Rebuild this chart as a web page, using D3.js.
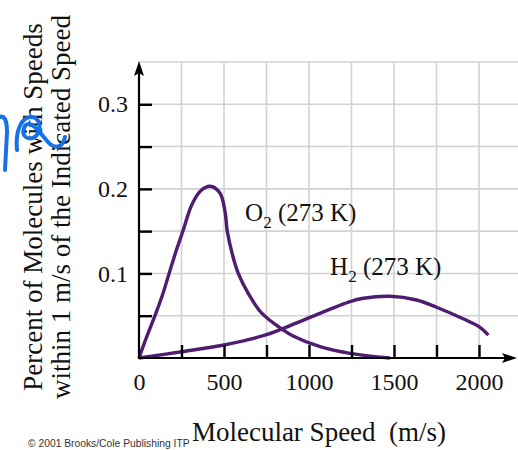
<!DOCTYPE html>
<html>
<head>
<meta charset="utf-8">
<script src="https://cdn.jsdelivr.net/npm/d3@7"></script>
<style>
  body { margin: 0; background: #fff; }
  svg { display: block; }
  .serif { font-family: "Liberation Serif", "Times New Roman", serif; fill: #111; }
</style>
</head>
<body>
<svg id="chart"></svg>
<script>
// Data (speed in m/s, percent of molecules)
const o2Speed = [0, 45, 94, 139, 177, 216, 258, 310, 359, 418, 476, 506, 519, 550, 584, 641, 722, 849, 906, 1065, 1241, 1476];
const o2Pct = [0, 0.025, 0.05, 0.075, 0.1, 0.125, 0.15, 0.181, 0.197, 0.203, 0.195, 0.173, 0.15, 0.122, 0.1, 0.077, 0.053, 0.033, 0.026, 0.0134, 0.0055, 0];
const h2Speed = [0, 250, 500, 741, 849, 1006, 1241, 1320, 1476, 1633, 1750, 1900, 2000, 2055];
const h2Pct = [0, 0.0074, 0.0154, 0.027, 0.035, 0.048, 0.0666, 0.0706, 0.073, 0.0686, 0.06, 0.047, 0.037, 0.027];

const xTicks = [250, 500, 750, 1000, 1250, 1500, 1750, 2000];
const xLabels = [0, 500, 1000, 1500, 2000];
const yTicks = [0.05, 0.1, 0.15, 0.2, 0.25, 0.3];
const yLabels = [0.1, 0.2, 0.3];
const yGrid = [0.05, 0.1, 0.15, 0.2, 0.25, 0.3, 0.35];

const seriesLabels = [
  { gas: "O", temp: "(273 K)", at: [624, 0.162] },
  { gas: "H", temp: "(273 K)", at: [1124, 0.098] },
];

const width = 518, height = 450;
const curveColor = "#4e1d72";

const svg = d3.select("#chart").attr("width", width).attr("height", height);

const x = d3.scaleLinear().domain([0, 2000]).range([139, 479]);
const y = d3.scaleLinear().domain([0, 0.35]).range([358, 62]);

// grid
svg.append("g")
  .selectAll("line")
  .data(xTicks)
  .join("line")
  .attr("x1", (d) => x(d)).attr("x2", (d) => x(d))
  .attr("y1", y(0.35)).attr("y2", y(0))
  .attr("stroke", "#d2d2d2").attr("stroke-width", 1.6);
svg.append("g")
  .selectAll("line")
  .data(yGrid)
  .join("line")
  .attr("x1", x(0)).attr("x2", width)
  .attr("y1", (d) => y(d)).attr("y2", (d) => y(d))
  .attr("stroke", "#d2d2d2").attr("stroke-width", 1.6);

// curves
const line = d3.line()
  .x((d) => x(d[0]))
  .y((d) => y(d[1]))
  .curve(d3.curveCatmullRom.alpha(0.5));

svg.append("path")
  .datum(h2Speed.map((s, i) => [s, h2Pct[i]]))
  .attr("fill", "none").attr("stroke", curveColor).attr("stroke-width", 3.4)
  .attr("d", line);
svg.append("path")
  .datum(o2Speed.map((s, i) => [s, o2Pct[i]]))
  .attr("fill", "none").attr("stroke", curveColor).attr("stroke-width", 3.4)
  .attr("d", line);

// axes - ticks point inward
const yAxis = svg.append("g")
  .attr("transform", `translate(${x(0)},0)`)
  .call(d3.axisLeft(y).tickValues(yTicks).tickSize(-13).tickFormat(""));
yAxis.select(".domain").remove();
yAxis.selectAll("line").attr("stroke", "#000").attr("stroke-width", 2.4);

const xAxis = svg.append("g")
  .attr("transform", `translate(0,${y(0)})`)
  .call(d3.axisBottom(x).tickValues(xTicks).tickSize(-13).tickFormat(""));
xAxis.select(".domain").remove();
xAxis.selectAll("line").attr("stroke", "#000").attr("stroke-width", 2.4);

// tick labels
const yLab = svg.append("g")
  .attr("transform", `translate(${x(0)},0)`)
  .call(d3.axisLeft(y).tickValues(yLabels).tickSize(0).tickPadding(11).tickFormat(d3.format(".1f")));
yLab.select(".domain").remove();
yLab.selectAll("text").attr("class", "serif").attr("font-size", 24).attr("font-family", null);

const xLab = svg.append("g")
  .attr("transform", `translate(0,${y(0)})`)
  .call(d3.axisBottom(x).tickValues(xLabels).tickSize(0).tickPadding(15).tickFormat(d3.format("d")));
xLab.select(".domain").remove();
xLab.selectAll("text").attr("class", "serif").attr("font-size", 24).attr("font-family", null);

// axis lines with arrows
svg.append("line")
  .attr("x1", x(0)).attr("x2", x(0))
  .attr("y1", y(0) + 1).attr("y2", y(0.35) + 8)
  .attr("stroke", "#000").attr("stroke-width", 2.2);
svg.append("path")
  .attr("d", `M${x(0)},${y(0.35) - 1} l-5,15 l5,-3 l5,3 z`)
  .attr("fill", "#000");
svg.append("line")
  .attr("x1", x(0) - 1).attr("x2", width - 8)
  .attr("y1", y(0)).attr("y2", y(0))
  .attr("stroke", "#000").attr("stroke-width", 2.2);
svg.append("path")
  .attr("d", `M${width - 1},${y(0)} l-15,-5 l3,5 l-3,5 z`)
  .attr("fill", "#000");

// series labels with subscript 2
seriesLabels.forEach((s) => {
  const t = svg.append("text")
    .attr("class", "serif")
    .attr("font-size", 25)
    .attr("x", x(s.at[0]))
    .attr("y", y(s.at[1]));
  t.append("tspan").text(s.gas);
  t.append("tspan").attr("font-size", 17).attr("dy", 7).text("2");
  t.append("tspan").attr("dy", -7).text(" " + s.temp);
});

// axis titles
svg.append("text")
  .attr("class", "serif")
  .attr("font-size", 27)
  .attr("text-anchor", "middle")
  .attr("x", 319).attr("y", 441)
  .attr("xml:space", "preserve")
  .text("Molecular Speed  (m/s)");

const yTitle = svg.append("text")
  .attr("class", "serif")
  .attr("font-size", 27)
  .attr("text-anchor", "middle")
  .attr("transform", "translate(0,207) rotate(-90)");
yTitle.append("tspan").attr("x", 0).attr("y", 42).text("Percent of Molecules with Speeds");
yTitle.append("tspan").attr("x", 0).attr("y", 70).text("within 1 m/s of the Indicated Speed");

// credit line
svg.append("text")
  .attr("x", 28).attr("y", 447)
  .attr("font-family", "Liberation Sans, Arial, sans-serif")
  .attr("font-size", 10.3)
  .attr("fill", "#333")
  .text("© 2001 Brooks/Cole Publishing ITP");

// blue handwritten mark on the left
svg.append("path")
  .attr("d", "M0,117 C4,115 7,120 7,132 L5,170 M17,150 C15,130 22,117 31,117 C40,117 42,129 36,136 C29,142 19,136 25,126 C31,118 42,136 50,144 C56,149 63,147 65,137")
  .attr("fill", "none").attr("stroke", "#1670e8").attr("stroke-width", 4)
  .attr("stroke-linecap", "round");
</script>
</body>
</html>
